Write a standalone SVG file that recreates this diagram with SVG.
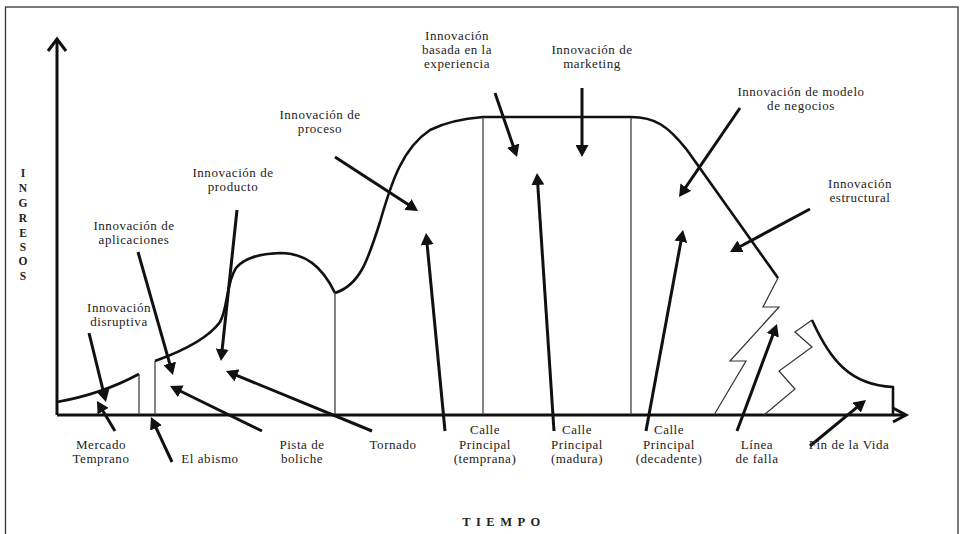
<svg xmlns="http://www.w3.org/2000/svg" width="961" height="534" viewBox="0 0 961 534">
<defs>
<marker id="ah" markerUnits="userSpaceOnUse" markerWidth="13" markerHeight="13" refX="3" refY="6.5" orient="auto">
<path d="M0,0 L12,6.5 L0,13 z" fill="#111"/>
</marker>
<style>
.lbl{font-size:13px;letter-spacing:0.55px;fill:#222;text-anchor:middle}
.ax{font-weight:bold;fill:#222;text-anchor:middle}
.thick{fill:none;stroke:#111;stroke-width:2.6;stroke-linejoin:round}
.thin{fill:none;stroke:#333;stroke-width:1.2}
.axis{fill:none;stroke:#111;stroke-width:3}
.arr{fill:none;stroke:#111;stroke-width:3;marker-end:url(#ah)}
</style>
</defs>
<rect x="0" y="0" width="961" height="534" fill="#fff"/>
<rect x="5.5" y="7" width="952.5" height="540" fill="none" stroke="#333" stroke-width="1.3"/>

<g id="axes" font-family="Liberation Serif, Times New Roman, serif">
<path class="axis" d="M57,415 L57,39"/>
<path class="axis" d="M48,51 L57,39 L66,51"/>
<path class="axis" d="M57,415 L906,415"/>
<path class="axis" d="M893,408 L906,415 L893,422"/>
<g id="ingresos" class="ax" font-size="11.5">
<text x="23" y="177">I</text><text x="23" y="192">N</text><text x="23" y="207">G</text><text x="23" y="222">R</text><text x="23" y="237">E</text><text x="23" y="251">S</text><text x="23" y="265">O</text><text x="23" y="280">S</text>
</g>
<text id="tiempo" class="ax" x="504" y="526" font-size="12.5" letter-spacing="5.5">TIEMPO</text>
</g>

<g id="curve">
<path class="thick" d="M57,402 C85,397 115,387 139,374"/>
<path class="thin" d="M139,374 L139,415"/>
<path class="thin" d="M155,361 L155,415"/>
<path class="thick" d="M155,361 C180,352 207,340 220,322 C228,308 226,283 236,268 C244,258 258,254 280,253 C305,253 322,266 335,293"/>
<path class="thin" d="M335,293 L335,415"/>
<path class="thick" d="M335,293 C360,285 368,260 380,222 C392,180 403,148 430,130 C450,120 470,118 483,117 L631,117"/>
<path class="thin" d="M483,117 L483,415"/>
<path class="thin" d="M631,117 L631,415"/>
<path class="thick" d="M631,117 C655,117 668,126 687,150 L778,278"/>
<path class="thin" d="M778,278 L763,307 L779,307 L730,361 L746,361 L714,415"/>
<path class="thin" d="M764,415 L795,389 L779,371 L812,347 L795,332 L812,320"/>
<path class="thick" d="M812,320 C830,360 850,385 893,387 L893,415"/>
</g>

<g id="connectors">
<path class="arr" d="M89,333 L103.8,393.3"/>
<path class="arr" d="M115,431 L101.6,408.7"/>
<path class="arr" d="M172,462 L154.8,425.2"/>
<path class="arr" d="M138,252 L170.5,366.3"/>
<path class="arr" d="M262,431 L178.1,390"/>
<path class="arr" d="M237,210 L221.9,352"/>
<path class="arr" d="M372,431 L234.3,374.4"/>
<path class="arr" d="M335,157 L410.5,206.1"/>
<path class="arr" d="M445,431 L426.9,242"/>
<path class="arr" d="M495,93 L514.1,148.5"/>
<path class="arr" d="M582,88 L582,148"/>
<path class="arr" d="M554,431 L537.6,182"/>
<path class="arr" d="M740,108 L684.1,189.6"/>
<path class="arr" d="M646,431 L681.4,238.8"/>
<path class="arr" d="M810,209 L737.9,247.7"/>
<path class="arr" d="M737,431 L773.8,332.4"/>
<path class="arr" d="M810,446 L859,405.7"/>
</g>

<g id="labels" font-family="Liberation Serif, Times New Roman, serif">
<g id="disruptiva" class="lbl"><text x="119" y="312">Innovación</text><text x="119" y="326">disruptiva</text></g>
<g id="aplicaciones" class="lbl"><text x="134" y="230">Innovación de</text><text x="134" y="244">aplicaciones</text></g>
<g id="producto" class="lbl"><text x="233" y="177">Innovación de</text><text x="233" y="191">producto</text></g>
<g id="proceso" class="lbl"><text x="320" y="119">Innovación de</text><text x="320" y="133">proceso</text></g>
<g id="experiencia" class="lbl"><text x="457" y="40">Innovación</text><text x="457" y="54">basada en la</text><text x="457" y="68">experiencia</text></g>
<g id="marketing" class="lbl"><text x="592" y="54">Innovación de</text><text x="592" y="68">marketing</text></g>
<g id="negocios" class="lbl"><text x="801" y="96">Innovación de modelo</text><text x="801" y="110">de negocios</text></g>
<g id="estructural" class="lbl"><text x="860" y="188">Innovación</text><text x="860" y="202">estructural</text></g>
<g id="mercado" class="lbl"><text x="101" y="449">Mercado</text><text x="101" y="463">Temprano</text></g>
<g id="abismo" class="lbl"><text x="210" y="463">El abismo</text></g>
<g id="pista" class="lbl"><text x="302" y="449">Pista de</text><text x="302" y="463">boliche</text></g>
<g id="tornado" class="lbl"><text x="393" y="449">Tornado</text></g>
<g id="temprana" class="lbl"><text x="485" y="434">Calle</text><text x="485" y="449">Principal</text><text x="485" y="463">(temprana)</text></g>
<g id="madura" class="lbl"><text x="577" y="434">Calle</text><text x="577" y="449">Principal</text><text x="577" y="463">(madura)</text></g>
<g id="decadente" class="lbl"><text x="669" y="434">Calle</text><text x="669" y="449">Principal</text><text x="669" y="463">(decadente)</text></g>
<g id="falla" class="lbl"><text x="757" y="449">Línea</text><text x="757" y="463">de falla</text></g>
<g id="fin" class="lbl"><text x="849" y="449">Fin de la Vida</text></g>
</g>
</svg>
